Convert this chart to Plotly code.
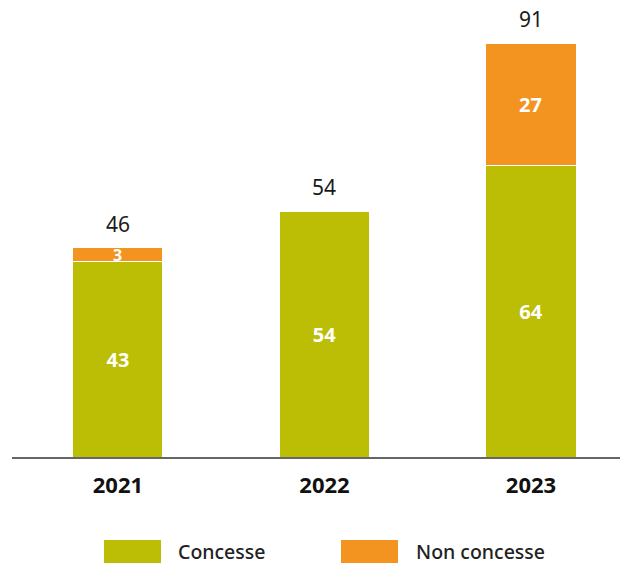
import plotly.graph_objects as go

years = ["2021", "2022", "2023"]
concesse = [43, 54, 64]
non_concesse = [3, 0, 27]
totals = [46, 54, 91]

GREEN = "#BCBD05"
ORANGE = "#F39320"
FONT = "Noto Sans"
LABEL_FONT = dict(family=FONT, size=20, color="white", weight="bold")

fig = go.Figure()

fig.add_bar(
    x=years, y=concesse, name="Concesse",
    marker=dict(color=GREEN, line=dict(color="white", width=1)),
    width=0.436,
    text=[str(v) for v in concesse],
    textposition="inside", insidetextanchor="middle", constraintext="none",
    textfont=LABEL_FONT,
)
fig.add_bar(
    x=years, y=non_concesse, name="Non concesse",
    marker=dict(color=ORANGE, line=dict(color="white", width=1)),
    width=0.436,
)

# segment labels for the upper series, centred in each segment
# (thin segments get a slightly smaller label)
for i, (base, v) in enumerate(zip(concesse, non_concesse)):
    if v:
        f = dict(LABEL_FONT, size=20 if v >= 5 else 16)
        fig.add_annotation(
            x=i, y=base + v / 2, text=str(v), showarrow=False,
            yanchor="middle", font=f,
        )

# totals above each stack
for i, t in enumerate(totals):
    fig.add_annotation(
        x=i, y=t, text=str(t), showarrow=False,
        yanchor="bottom", yshift=8,
        font=dict(family=FONT, size=21, color="#1a1a1a"),
    )

# legend drawn as large swatches with labels
legend_items = [("Concesse", GREEN, 104, 178), ("Non concesse", ORANGE, 341, 416)]
W, H = 620, 564
ml, mr, mt, mb = 12, 0, 0, 107
pw, ph = W - ml - mr, H - mt - mb
for name, col, sx, tx in legend_items:
    x0 = (sx - ml) / pw
    x1 = (sx + 57 - ml) / pw
    y0 = (H - mb - 563) / ph
    y1 = (H - mb - 540) / ph
    fig.add_shape(type="rect", xref="paper", yref="paper",
                  x0=x0, x1=x1, y0=y0, y1=y1,
                  fillcolor=col, line=dict(width=0))
    fig.add_annotation(xref="paper", yref="paper",
                       x=(tx - ml) / pw - 0.004, y=(y0 + y1) / 2,
                       xanchor="left", yanchor="middle", showarrow=False,
                       text=name, font=dict(family=FONT, size=19.5, color="#222222", weight=500))

fig.update_layout(
    barmode="stack",
    width=W, height=H,
    margin=dict(l=ml, r=mr, t=mt, b=mb),
    plot_bgcolor="white", paper_bgcolor="white",
    showlegend=False,
    xaxis=dict(
        type="category", range=[-0.513, 2.431],
        showline=True, linecolor="#666666", linewidth=1.5,
        ticks="", showgrid=False,
        tickfont=dict(family=FONT, size=22, color="#111111", weight="bold"),
        ticklabelstandoff=8,
    ),
    yaxis=dict(range=[0, 457 / 4.549], visible=False, showgrid=False),
)

fig.write_html("out.html")
